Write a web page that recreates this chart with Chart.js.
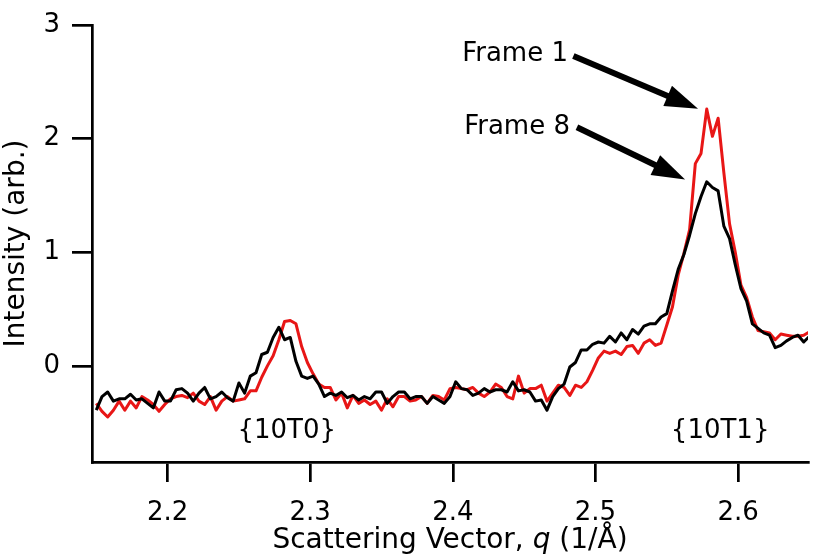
<!DOCTYPE html>
<html>
<head>
<meta charset="utf-8">
<script src="https://cdn.jsdelivr.net/npm/chart.js@4.4.1/dist/chart.umd.min.js"></script>
<style>
  html, body { margin: 0; padding: 0; background: #fff; }
  #wrap { width: 813px; height: 558px; position: relative; }
</style>
</head>
<body>
<div id="wrap"><canvas id="c"></canvas></div>
<script>
// Scattering vector q (1/Å)
const q = [
  2.150, 2.154, 2.158, 2.162, 2.166, 2.170, 2.174, 2.178, 2.182, 2.186,
  2.190, 2.194, 2.198, 2.202, 2.206, 2.210, 2.214, 2.218, 2.222, 2.226,
  2.230, 2.234, 2.238, 2.242, 2.246, 2.250, 2.254, 2.258, 2.262, 2.266,
  2.270, 2.274, 2.278, 2.282, 2.286, 2.290, 2.294, 2.298, 2.302, 2.306,
  2.310, 2.314, 2.318, 2.322, 2.326, 2.330, 2.334, 2.338, 2.342, 2.346,
  2.350, 2.354, 2.358, 2.362, 2.366, 2.370, 2.374, 2.378, 2.382, 2.386,
  2.390, 2.394, 2.398, 2.402, 2.406, 2.410, 2.414, 2.418, 2.422, 2.426,
  2.430, 2.434, 2.438, 2.442, 2.446, 2.450, 2.454, 2.458, 2.462, 2.466,
  2.470, 2.474, 2.478, 2.482, 2.486, 2.490, 2.494, 2.498, 2.502, 2.506,
  2.510, 2.514, 2.518, 2.522, 2.526, 2.530, 2.534, 2.538, 2.542, 2.546,
  2.550, 2.554, 2.558, 2.562, 2.566, 2.570, 2.574, 2.578, 2.582, 2.586,
  2.590, 2.594, 2.598, 2.602, 2.606, 2.610, 2.614, 2.618, 2.622, 2.626,
  2.630, 2.634, 2.638, 2.642, 2.646, 2.650
];

// Frame 8 (black)
const frame8 = [
  -0.39, -0.27, -0.23, -0.31, -0.29, -0.29, -0.25, -0.30, -0.29, -0.33,
  -0.37, -0.23, -0.31, -0.31, -0.21, -0.20, -0.24, -0.31, -0.24, -0.19,
  -0.29, -0.27, -0.23, -0.28, -0.31, -0.15, -0.24, -0.09, -0.06, 0.10,
  0.12, 0.25, 0.34, 0.23, 0.25, 0.04, -0.09, -0.11, -0.09, -0.16,
  -0.27, -0.24, -0.26, -0.23, -0.28, -0.26, -0.30, -0.27, -0.29, -0.23,
  -0.23, -0.33, -0.27, -0.23, -0.23, -0.29, -0.27, -0.27, -0.33, -0.27,
  -0.30, -0.33, -0.27, -0.14, -0.20, -0.21, -0.26, -0.24, -0.20, -0.23,
  -0.21, -0.21, -0.23, -0.14, -0.22, -0.21, -0.23, -0.31, -0.30, -0.39,
  -0.27, -0.20, -0.16, -0.01, 0.03, 0.14, 0.14, 0.19, 0.21, 0.20,
  0.26, 0.21, 0.29, 0.23, 0.32, 0.28, 0.35, 0.37, 0.37, 0.43,
  0.46, 0.66, 0.85, 0.98, 1.15, 1.34, 1.49, 1.62, 1.57, 1.54,
  1.23, 1.12, 0.89, 0.68, 0.57, 0.37, 0.33, 0.29, 0.27, 0.16,
  0.18, 0.22, 0.25, 0.27, 0.21, 0.26
];

// Frame 1 (red)
const frame1 = [
  -0.33, -0.40, -0.45, -0.39, -0.31, -0.39, -0.31, -0.37, -0.27, -0.30,
  -0.34, -0.40, -0.34, -0.29, -0.27, -0.26, -0.28, -0.24, -0.31, -0.34,
  -0.27, -0.39, -0.31, -0.27, -0.31, -0.30, -0.29, -0.22, -0.22, -0.10,
  0.00, 0.09, 0.23, 0.39, 0.40, 0.37, 0.17, 0.03, -0.07, -0.16,
  -0.19, -0.19, -0.30, -0.24, -0.37, -0.26, -0.33, -0.30, -0.34, -0.31,
  -0.39, -0.29, -0.36, -0.27, -0.27, -0.31, -0.30, -0.27, -0.33, -0.26,
  -0.27, -0.30, -0.20, -0.19, -0.20, -0.21, -0.19, -0.24, -0.27, -0.23,
  -0.16, -0.19, -0.27, -0.29, -0.09, -0.24, -0.20, -0.20, -0.17, -0.31,
  -0.24, -0.17, -0.19, -0.26, -0.17, -0.19, -0.14, -0.04, 0.07, 0.13,
  0.11, 0.13, 0.10, 0.17, 0.18, 0.11, 0.20, 0.23, 0.18, 0.20,
  0.36, 0.52, 0.80, 0.99, 1.20, 1.78, 1.87, 2.26, 2.02, 2.18,
  1.70, 1.25, 1.00, 0.71, 0.60, 0.43, 0.31, 0.30, 0.29, 0.23,
  0.28, 0.27, 0.26, 0.26, 0.27, 0.30
];

const xTicks = [2.2, 2.3, 2.4, 2.5, 2.6];
const yTicks = [0, 1, 2, 3];

const FONT = "'DejaVu Sans', 'Liberation Sans', sans-serif";

// Annotation anchors in data coordinates
const notes = [
  { text: 'Frame 1', tq: 2.4807, tv: 2.746, q0: 2.4845, v0: 2.728, q1: 2.5719, v1: 2.262 },
  { text: 'Frame 8', tq: 2.4821, tv: 2.102, q0: 2.4870, v0: 2.100, q1: 2.5628, v1: 1.640 }
];
const peakLabels = [
  { text: '{10T0}', q: 2.2835, v: -0.575 },
  { text: '{10T1}', q: 2.5874, v: -0.575 }
];

const annotPlugin = {
  id: 'annot',
  afterDraw(chart) {
    const { ctx, scales: { x, y }, chartArea } = chart;
    ctx.save();
    ctx.fillStyle = '#000';
    ctx.strokeStyle = '#000';
    ctx.font = '26px ' + FONT;
    ctx.textBaseline = 'middle';
    notes.forEach(n => {
      ctx.textAlign = 'right';
      ctx.fillText(n.text, x.getPixelForValue(n.tq), y.getPixelForValue(n.tv));
      const x0 = x.getPixelForValue(n.q0), y0 = y.getPixelForValue(n.v0);
      const x1 = x.getPixelForValue(n.q1), y1 = y.getPixelForValue(n.v1);
      const ang = Math.atan2(y1 - y0, x1 - x0);
      const headLen = 33, headHalf = 11;
      const bx = x1 - headLen * Math.cos(ang), by = y1 - headLen * Math.sin(ang);
      ctx.lineWidth = 6;
      ctx.lineCap = 'butt';
      ctx.beginPath();
      ctx.moveTo(x0, y0);
      ctx.lineTo(bx + 2 * Math.cos(ang), by + 2 * Math.sin(ang));
      ctx.stroke();
      ctx.beginPath();
      ctx.moveTo(x1, y1);
      ctx.lineTo(bx + headHalf * Math.sin(ang), by - headHalf * Math.cos(ang));
      ctx.lineTo(bx - headHalf * Math.sin(ang), by + headHalf * Math.cos(ang));
      ctx.closePath();
      ctx.fill();
    });
    ctx.textAlign = 'center';
    peakLabels.forEach(p => {
      ctx.fillText(p.text, x.getPixelForValue(p.q), y.getPixelForValue(p.v));
    });
    // X axis title with italic q
    const parts = [
      { t: 'Scattering Vector, ', f: '28px ' + FONT },
      { t: 'q', f: 'italic 28px ' + FONT },
      { t: ' (1/Å)', f: '28px ' + FONT }
    ];
    let total = 0;
    parts.forEach(p => { ctx.font = p.f; p.w = ctx.measureText(p.t).width; total += p.w; });
    let cx = (chartArea.left + chartArea.right) / 2 - total / 2;
    const ty = x.bottom - 17;
    ctx.textAlign = 'left';
    parts.forEach(p => { ctx.font = p.f; ctx.fillText(p.t, cx, ty); cx += p.w; });
    ctx.restore();
  }
};

new Chart(document.getElementById('c'), {
  type: 'line',
  data: {
    datasets: [
      {
        label: 'Frame 8',
        data: q.map((v, i) => ({ x: v, y: frame8[i] })),
        borderColor: '#000000',
        borderWidth: 3,
        pointRadius: 0,
        tension: 0,
        borderJoinStyle: 'round'
      },
      {
        label: 'Frame 1',
        data: q.map((v, i) => ({ x: v, y: frame1[i] })),
        borderColor: 'rgb(232,22,22)',
        borderWidth: 3,
        pointRadius: 0,
        tension: 0,
        borderJoinStyle: 'round'
      }
    ]
  },
  options: {
    responsive: true,
    maintainAspectRatio: false,
    animation: false,
    devicePixelRatio: 1,
    layout: { padding: { top: 13, right: 5, left: 0, bottom: 0 } },
    plugins: { legend: { display: false }, tooltip: { enabled: false } },
    scales: {
      x: {
        type: 'linear',
        min: 2.147,
        max: 2.649,
        afterBuildTicks: s => { s.ticks = xTicks.map(v => ({ value: v })); },
        afterFit: s => { s.height = 96; },
        grid: { display: true, drawOnChartArea: false, drawTicks: true, tickLength: 20, color: '#000', lineWidth: 2.7 },
        border: { display: true, color: '#000', width: 2.7 },
        ticks: {
          color: '#000',
          font: { family: FONT, size: 26, lineHeight: 1.2 },
          padding: 16,
          maxRotation: 0,
          callback: v => v.toFixed(1)
        },
        title: { display: false }
      },
      y: {
        type: 'linear',
        min: -0.846,
        max: 3,
        afterBuildTicks: s => { s.ticks = yTicks.map(v => ({ value: v })); },
        afterFit: s => { s.width = 92; },
        grid: { display: true, drawOnChartArea: false, drawTicks: true, tickLength: 20, color: '#000', lineWidth: 2.7 },
        border: { display: true, color: '#000', width: 2.7 },
        ticks: {
          color: '#000',
          font: { family: FONT, size: 26, lineHeight: 1.0 },
          padding: 12,
          callback: v => String(v)
        },
        title: {
          display: true,
          text: 'Intensity (arb.)',
          color: '#000',
          font: { family: FONT, size: 28, lineHeight: 1.2 },
          padding: { top: 0, bottom: 0 }
        }
      }
    }
  },
  plugins: [annotPlugin]
});
</script>
</body>
</html>
